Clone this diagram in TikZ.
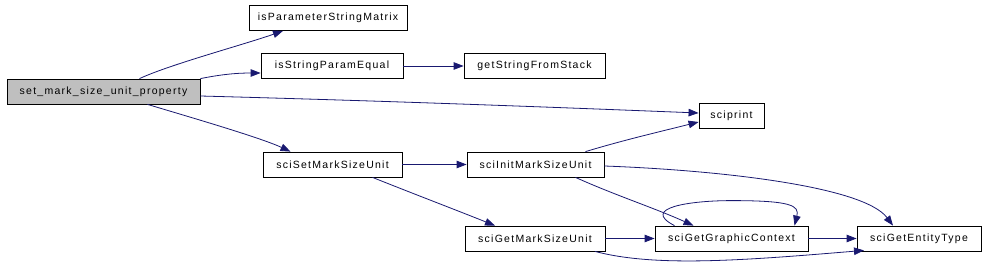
\documentclass[tikz,border=0pt]{standalone}
\usepackage{fontspec}
\setmainfont{Liberation Sans}[LetterSpace=12]
\usetikzlibrary{arrows.meta}
\definecolor{edgecol}{HTML}{191970}
\definecolor{rootfill}{HTML}{BFBFBF}
\begin{document}
\begin{tikzpicture}[x=1pt,y=-1pt,
  fn/.style={draw=black,line width=0.8pt,fill=white,rectangle,inner sep=0pt,minimum height=25pt,font=\fontsize{10.5}{12}\selectfont},
  call/.style={draw=edgecol,line width=0.8pt,-{Triangle[length=10pt,width=7.5pt]}}]
\useasboundingbox (0,0) rectangle (986,273);
\node[fn,fill=rootfill,minimum width=193pt] (A) at (103.5,91.5) {set\_mark\_size\_unit\_property};
\node[fn,minimum width=158pt] (B) at (328,18) {isParameterStringMatrix};
\node[fn,minimum width=142pt] (C) at (332,66) {isStringParamEqual};
\node[fn,minimum width=141pt] (D) at (534.5,66) {getStringFromStack};
\node[fn,minimum width=65pt] (E) at (731.5,115.5) {sciprint};
\node[fn,minimum width=139pt] (F) at (332.5,164.5) {sciSetMarkSizeUnit};
\node[fn,minimum width=137pt] (G) at (535.5,164.5) {sciInitMarkSizeUnit};
\node[fn,minimum width=140pt] (H) at (535,238.5) {sciGetMarkSizeUnit};
\node[fn,minimum width=153pt] (I) at (731.5,238.5) {sciGetGraphicContext};
\node[fn,minimum width=124pt] (J) at (919,238.5) {sciGetEntityType};
% edges
\draw[call] ([xshift=36pt]A.north) .. controls +(30,-14) and +(-40,14) .. ([xshift=-45pt]B.south);
\draw[call] (A.north east) .. controls +(20,-4) and +(-25,0) .. ([yshift=-7pt]C.west);
\draw[call] ([yshift=-4.5pt]A.east) .. controls +(150,4) and +(-200,-8) .. ([yshift=2.5pt]E.west);
\draw[call] ([xshift=44pt]A.south) .. controls +(40,12) and +(-30,-14) .. ([xshift=-42pt]F.north);
\draw[call] (C) -- (D);
\draw[call] (F) -- (G);
\draw[call] ([xshift=40pt]F.south) .. controls +(40,16) and +(-40,-16) .. ([xshift=-40pt]H.north);
\draw[call] ([xshift=50pt]G.north) .. controls +(40,-12) and +(-40,10) .. ([yshift=-6.5pt]E.west);
\draw[call] ([yshift=-1.5pt]G.east) .. controls +(110,4) and +(-30,-40) .. ([xshift=-26pt]J.north);
\draw[call] ([xshift=40pt]G.south) .. controls +(40,18) and +(-40,-18) .. ([xshift=-38pt]I.north);
\draw[call] ([xshift=-57pt]I.north) .. controls +(-35,-18) and +(-40,0) .. ([yshift=25pt]I.north) .. controls +(60,0) and +(5,-20) .. ([xshift=63pt]I.north);
\draw[call] (H) -- (I);
\draw[call] (I) -- (J);
\draw[call] ([xshift=60pt]H.south) .. controls +(60,16) and +(-120,10) .. ([xshift=-55pt,yshift=1pt]J.south);
\end{tikzpicture}
\end{document}
